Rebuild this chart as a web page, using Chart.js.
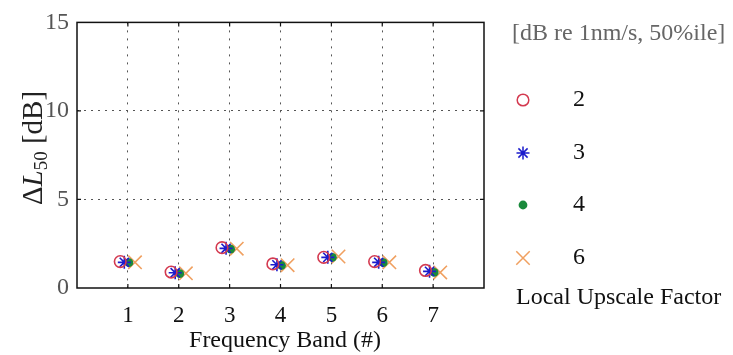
<!DOCTYPE html>
<html>
<head>
<meta charset="utf-8">
<script src="https://cdn.jsdelivr.net/npm/chart.js@4.4.0/dist/chart.umd.min.js"></script>
<style>
  html, body { margin: 0; padding: 0; background: #fff; }
  #chart { display: block; }
</style>
</head>
<body>
<canvas id="chart" width="733" height="355"></canvas>
<script>
// frequency bands and Delta L50 per local upscale factor
const bands = [1, 2, 3, 4, 5, 6, 7];
const factors = ["2", "3", "4", "6"];
const up2 = [1.49, 0.90, 2.28, 1.36, 1.73, 1.49, 0.99];
const up3 = [1.45, 0.86, 2.24, 1.31, 1.73, 1.45, 0.94];
const up4 = [1.43, 0.81, 2.19, 1.27, 1.73, 1.43, 0.88];
const up6 = [1.45, 0.83, 2.22, 1.29, 1.78, 1.45, 0.88];
const yTicks = [0, 5, 10, 15];

const SERIF = "'Liberation Serif', 'DejaVu Serif', serif";

// marker look per series (small horizontal dodge so they don't sit on top of each other)
const styles = [
  { pointStyle: "circle", color: "#d43a50", radius: 5.8, fill: false, dodge: -0.15 },
  { pointStyle: "star", color: "#1c1ccc", radius: 6.5, fill: false, dodge: -0.07 },
  { pointStyle: "circle", color: "#1a8a3c", radius: 4.4, fill: true, dodge: 0.02 },
  { pointStyle: "crossRot", color: "#f0a060", radius: 9.5, fill: false, dodge: 0.14 },
];
const series = [up2, up3, up4, up6];

const datasets = series.map((vals, i) => {
  const s = styles[i];
  return {
    label: factors[i],
    data: vals.map((v, j) => ({ x: bands[j] + s.dodge, y: v })),
    pointStyle: s.pointStyle,
    pointRadius: s.radius,
    pointBorderWidth: s.fill ? 0 : 1.6,
    borderColor: s.color,
    backgroundColor: s.fill ? s.color : "rgba(0,0,0,0)",
    showLine: false,
  };
});

const framePlugin = {
  id: "frame",
  afterDraw(chart) {
    const { ctx, chartArea: a, scales } = chart;
    ctx.save();
    // box
    ctx.strokeStyle = "#111";
    ctx.lineWidth = 1.5;
    ctx.strokeRect(a.left, a.top, a.right - a.left, a.bottom - a.top);
    // inward ticks
    ctx.lineWidth = 1.2;
    ctx.beginPath();
    bands.forEach((b) => {
      const x = scales.x.getPixelForValue(b);
      ctx.moveTo(x, a.bottom); ctx.lineTo(x, a.bottom - 4);
      ctx.moveTo(x, a.top); ctx.lineTo(x, a.top + 4);
    });
    [5, 10].forEach((v) => {
      const y = scales.y.getPixelForValue(v);
      ctx.moveTo(a.left, y); ctx.lineTo(a.left + 4, y);
      ctx.moveTo(a.right, y); ctx.lineTo(a.right - 4, y);
    });
    ctx.stroke();

    // x axis title
    ctx.fillStyle = "#111";
    ctx.font = "24px " + SERIF;
    ctx.textAlign = "center";
    ctx.textBaseline = "alphabetic";
    ctx.fillText("Frequency Band (#)", 285, 347);

    // y axis title: ΔL_50 [dB]
    ctx.translate(46, 148);
    ctx.rotate(-Math.PI / 2);
    const parts = [
      { t: "\u0394", f: "29px " + SERIF, dy: 0 },
      { t: "L", f: "italic 29px " + SERIF, dy: 0 },
      { t: "50", f: "19px " + SERIF, dy: 5 },
      { t: " [dB]", f: "29px " + SERIF, dy: 0 },
    ];
    let total = 0;
    parts.forEach((p) => { ctx.font = p.f; p.w = ctx.measureText(p.t).width; total += p.w; });
    let cx = -total / 2;
    ctx.textAlign = "left";
    ctx.fillStyle = "#222";
    parts.forEach((p) => {
      ctx.font = p.f;
      ctx.fillText(p.t, cx, p.dy - 4);
      cx += p.w;
    });
    ctx.restore();

    // legend
    ctx.save();
    ctx.font = "24px " + SERIF;
    ctx.fillStyle = "#666";
    ctx.textAlign = "left";
    ctx.textBaseline = "middle";
    ctx.fillText("[dB re 1nm/s, 50%ile]", 512, 34);
    const rows = [100, 153, 205, 258];
    styles.forEach((s, i) => {
      ctx.strokeStyle = s.color;
      ctx.fillStyle = s.fill ? s.color : "rgba(0,0,0,0)";
      ctx.lineWidth = s.fill ? 0 : 1.5;
      Chart.helpers.drawPoint(ctx, {
        pointStyle: s.pointStyle, radius: s.radius, borderWidth: s.fill ? 0 : 1.5, rotation: 0,
      }, 523, rows[i]);
      ctx.fillStyle = "#111";
      ctx.font = "24px " + SERIF;
      ctx.fillText(factors[i], 573, rows[i]);
    });
    ctx.fillStyle = "#111";
    ctx.font = "24px " + SERIF;
    ctx.fillText("Local Upscale Factor", 516, 298);
    ctx.restore();
  },
};

new Chart(document.getElementById("chart"), {
  type: "scatter",
  data: { datasets },
  options: {
    responsive: false,
    animation: false,
    layout: { padding: { top: 16, right: 249, left: 0, bottom: 0 } },
    plugins: { legend: { display: false }, tooltip: { enabled: false } },
    scales: {
      x: {
        type: "linear",
        min: 0,
        max: 8,
        afterFit: (s) => { s.height = 67; },
        afterBuildTicks: (s) => { s.ticks = [0, ...bands, 8].map((v) => ({ value: v })); },
        ticks: {
          callback: (v) => (bands.includes(v) ? String(v) : ""),
          font: { family: SERIF, size: 23 },
          color: "#111",
          padding: 14,
          maxRotation: 0,
        },
        grid: {
          drawTicks: false,
          color: (c) => (c.tick && bands.includes(c.tick.value) ? "#555" : "rgba(0,0,0,0)"),
          lineWidth: 1,
        },
        border: { display: false, dash: [2, 6] },
      },
      y: {
        type: "linear",
        min: 0,
        max: 15,
        afterFit: (s) => { s.width = 77; },
        afterBuildTicks: (s) => { s.ticks = yTicks.map((v) => ({ value: v })); },
        ticks: {
          font: { family: SERIF, size: 24 },
          color: "#555",
          padding: 8,
        },
        grid: {
          drawTicks: false,
          color: (c) => (c.tick && (c.tick.value === 5 || c.tick.value === 10) ? "#555" : "rgba(0,0,0,0)"),
          lineWidth: 1,
        },
        border: { display: false, dash: [2, 5] },
      },
    },
  },
  plugins: [framePlugin],
});
</script>
</body>
</html>
